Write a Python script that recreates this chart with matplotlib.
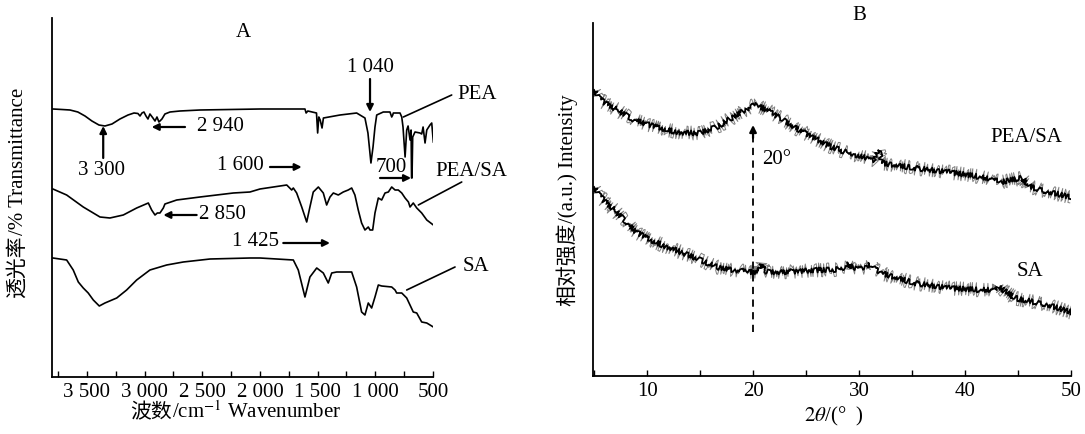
import matplotlib
matplotlib.use('Agg')
import matplotlib.pyplot as plt
from matplotlib.ticker import MultipleLocator, FuncFormatter

plt.rcParams['font.family'] = ['Liberation Serif', 'Noto Sans CJK SC']
plt.rcParams['mathtext.fontset'] = 'stix'
plt.rcParams['font.size'] = 15

SERIF = 'Liberation Serif'
CJK = 'Noto Sans CJK SC'

# FTIR spectra (wavenumber, transmittance in arbitrary units)
pea_wn = [3795, 3717, 3647, 3579, 3517, 3457, 3396, 3344, 3283, 3214, 3144, 3092, 3058,
          3040, 3023, 3006, 2988, 2971, 2954, 2928, 2910, 2893, 2876, 2850, 2824, 2780,
          2694, 2520, 2000, 1610, 1600, 1585, 1510, 1500, 1490, 1478, 1462, 1450, 1306,
          1162, 1090, 1064, 1038, 1020, 1003, 988, 931, 873, 858, 849, 844, 786, 771, 760,
          742, 728, 716, 699, 690, 686, 682, 676, 656, 613, 598, 586, 569, 554, 526, 511, 497]
pea_t = [268, 267.5, 267, 265, 261, 256, 252, 251, 253, 258, 262, 264, 263.5,
         261, 264, 265, 261, 258, 263, 259, 256, 260, 255, 258, 263, 265,
         266, 267, 268, 268, 264, 266, 264, 244, 260, 257, 249, 259, 262,
         264, 259, 244, 214, 230, 250, 262, 265, 265, 260, 262, 264, 264, 260, 250,
         220, 247, 251, 237, 247, 199, 199, 240, 245, 244, 243, 250, 234, 247, 252, 254, 235]

peasa_wn = [3795, 3676, 3532, 3387, 3301, 3185, 3069, 2968, 2939, 2910, 2890, 2867, 2838,
            2824, 2722, 2520, 2231, 2087, 2000, 1768, 1725, 1711, 1682, 1638, 1595, 1567,
            1538, 1494, 1451, 1422, 1393, 1364, 1321, 1278, 1235, 1205, 1177, 1148, 1119,
            1090, 1061, 1046, 1023, 1003, 974, 945, 916, 887, 858, 829, 801, 771, 742, 713,
            699, 671, 641, 598, 554, 497]
peasa_t = [188, 182, 170, 160, 159, 162, 169, 174, 167, 162, 164, 164, 169,
           173, 177, 180, 184, 185, 188, 192, 187, 189, 184, 170, 155, 170,
           185, 190, 184, 172, 180, 184, 182, 185, 187, 189, 182, 167, 154,
           147, 150, 147, 147, 164, 179, 177, 184, 185, 190, 187, 187, 184, 179, 175,
           170, 174, 169, 164, 157, 152]

sa_wn = [3795, 3676, 3619, 3575, 3532, 3489, 3445, 3393, 3344, 3242, 3156, 3069, 2954,
         2809, 2665, 2433, 2087, 2000, 1711, 1668, 1610, 1567, 1508, 1451, 1408, 1378,
         1335, 1205, 1162, 1119, 1090, 1061, 1032, 1003, 974, 945, 858, 829, 815, 771,
         728, 671, 641, 598, 554, 497]
sa_t = [119, 117, 107, 95, 89, 84, 77, 71, 74, 79, 87, 97, 107,
        112, 115, 118, 119, 119, 117, 107, 80, 100, 109, 104, 94, 104,
        105, 105, 90, 65, 62, 74, 69, 80, 92, 91, 90, 87, 84, 84,
        79, 65, 64, 55, 54, 50]

# XRD patterns (2theta, intensity in arbitrary units)
xrd_peasa_2t = [5.0, 5.6, 7.2, 8.7, 10.3, 11.9, 13.4, 15.0, 16.6, 18.1, 19.7, 20.3, 21.3,
                22.8, 24.4, 26.0, 27.4, 29.0, 31.4, 31.8, 32.2, 35.2, 38.4, 41.5, 43.4,
                45.4, 46.2, 47.8, 50.0]
xrd_peasa_i = [286, 276, 266, 256, 251, 246, 243, 243, 249, 259, 269, 271, 266,
               256, 246, 237, 229, 223, 216, 226, 213, 208, 204, 199, 194,
               198, 189, 184, 179]

xrd_sa_2t = [5.0, 5.6, 7.2, 8.7, 10.3, 11.9, 13.4, 15.0, 16.6, 18.1, 19.7, 20.5, 20.8,
             21.1, 22.8, 26.0, 27.4, 28.7, 29.0, 29.3, 29.9, 30.7, 31.0, 31.3, 32.1, 35.2,
             38.4, 41.5, 43.0, 43.3, 43.6, 44.7, 47.8, 50.0]
xrd_sa_i = [189, 179, 163, 146, 136, 129, 123, 116, 109, 106, 104, 104, 111,
            104, 104, 106, 106, 108, 113, 108, 108, 109, 112, 108, 103, 93,
            88, 86, 86, 90, 86, 78, 71, 64]

W, H = 1085, 434
fig = plt.figure(figsize=(W / 100, H / 100), dpi=100)
axA = fig.add_axes([52 / W, 1 - 377 / H, 381 / W, 359 / H])
axB = fig.add_axes([593 / W, 1 - 376 / H, 478 / W, 353 / H])

for ax in (axA, axB):
    for s in ('top', 'right'):
        ax.spines[s].set_visible(False)
    for s in ('left', 'bottom'):
        ax.spines[s].set_linewidth(1.3)
    ax.tick_params(which='both', direction='in', length=4, width=1, pad=4, labelsize=15)
    ax.set_yticks([])


def mixed_label(cx, cy, parts, rotation=0):
    # lay text pieces (CJK / serif) end to end, centred on pixel (cx, cy) from top-left
    r = fig.canvas.get_renderer()
    objs, widths = [], []
    for s, fam in parts:
        t = fig.text(0, 0, s, family=fam, fontsize=15, ha='left', va='baseline',
                     rotation_mode='anchor')
        objs.append(t)
        widths.append(t.get_window_extent(renderer=r).width)
    pos = -sum(widths) / 2
    for t, w in zip(objs, widths):
        if rotation == 0:
            t.set_position(((cx + pos) / W, 1 - (cy + 5) / H))
        else:
            t.set_rotation(90)
            t.set_position(((cx + 5) / W, 1 - (cy - pos) / H))
        pos += w


# ---- panel A: FTIR ----
for wn, t in ((pea_wn, pea_t), (peasa_wn, peasa_t), (sa_wn, sa_t)):
    axA.plot(wn, t, color='black', lw=1.2)
axA.set_xlim(3803, 500)
axA.set_ylim(0, 359)
axA.xaxis.set_major_locator(MultipleLocator(500))
axA.xaxis.set_minor_locator(MultipleLocator(250))
axA.xaxis.set_major_formatter(FuncFormatter(
    lambda v, p: '{:,}'.format(int(v)).replace(',', ' ')))

arw = dict(arrowstyle='-|>', color='black', lw=1.6, mutation_scale=10, shrinkA=0, shrinkB=0)
lead = dict(arrowstyle='-', color='black', lw=1.2, shrinkA=0, shrinkB=0)


def arrow(ax, xy, xytext, props):
    ax.annotate('', xy=xy, xytext=xytext, arrowprops=props, annotation_clip=False)


axA.text(2147, 344, 'A', ha='center', va='center')
axA.text(1046, 309, '1 040', ha='center', va='center')
arrow(axA, (1046, 265), (1046, 298), arw)
axA.text(2347, 250, '2 940', ha='center', va='center')
arrow(axA, (2939, 250), (2650, 250), arw)
axA.text(3373, 206, '3 300', ha='center', va='center')
arrow(axA, (3359, 251), (3359, 219), arw)
axA.text(2173, 211, '1 600', ha='center', va='center')
arrow(axA, (1638, 210), (1913, 210), arw)
axA.text(858, 209, '700', ha='center', va='center')
arrow(axA, (690, 199), (959, 199), arw)
axA.text(2329, 162, '2 850', ha='center', va='center')
arrow(axA, (2838, 162), (2549, 162), arw)
axA.text(2043, 135, '1 425', ha='center', va='center')
arrow(axA, (1393, 134), (1798, 134), arw)

axA.text(121, 282, 'PEA', ha='center', va='center', clip_on=False)
arrow(axA, (757, 260), (338, 282), lead)
axA.text(170, 205, 'PEA/SA', ha='center', va='center', clip_on=False)
arrow(axA, (627, 172), (251, 195), lead)
axA.text(127, 110, 'SA', ha='center', va='center', clip_on=False)
arrow(axA, (728, 87), (309, 110), lead)

# ---- panel B: XRD ----
for tt, inten in ((xrd_peasa_2t, xrd_peasa_i), (xrd_sa_2t, xrd_sa_i)):
    g, = axB.plot(tt, inten, color='0.5', lw=0.7)
    g.set_sketch_params(scale=7, length=1.0, randomness=2)
    k, = axB.plot(tt, inten, color='black', lw=1.3)
    k.set_sketch_params(scale=2.5, length=1.0, randomness=2)
axB.set_xlim(4.9, 50)
axB.set_ylim(0, 353)
axB.xaxis.set_major_locator(MultipleLocator(10))
axB.xaxis.set_minor_locator(MultipleLocator(5))

axB.plot([20, 20], [44, 240], color='black', lw=1.3, ls=(0, (4, 3)))
arrow(axB, (20, 251), (20, 238), arw)
axB.text(20.83, 216, '20°', ha='left', va='center')
axB.text(45.78, 239, 'PEA/SA', ha='center', va='center')
axB.text(46.1, 104, 'SA', ha='center', va='center')
axB.text(30.06, 361, 'B', ha='center', va='center', clip_on=False)

# axis titles, Chinese + English
mixed_label(236, 413, [('波数', CJK), ('/cm$^{-1}$ Wavenumber', SERIF)])
mixed_label(18, 193, [('透光率', CJK), ('/% Transmittance', SERIF)], rotation=90)
mixed_label(834, 416, [(r'$2\theta$/(°  )', SERIF)])
mixed_label(568, 200, [('相对强度', CJK), ('/(a.u.) Intensity', SERIF)], rotation=90)

fig.savefig('out.png', dpi=100)
